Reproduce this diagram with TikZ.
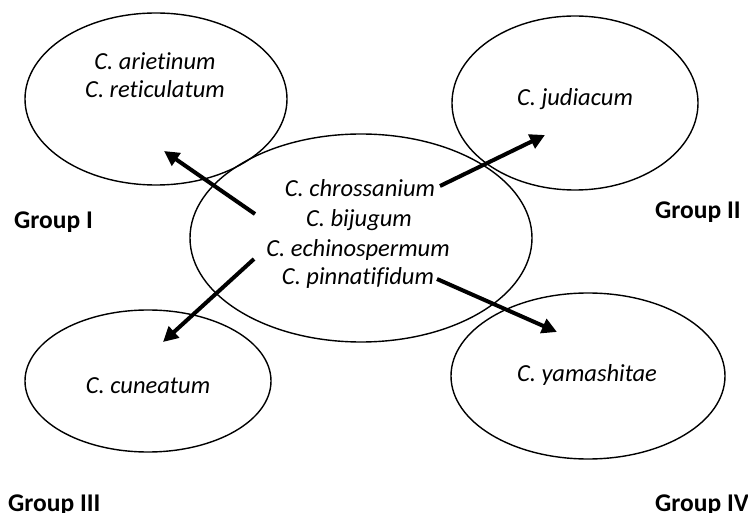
\documentclass[tikz,border=0pt]{standalone}
\usepackage{fontspec}
\setmainfont[Ligatures={NoCommon}]{Carlito}
\usetikzlibrary{shapes.geometric,arrows.meta}
\begin{document}
\begin{tikzpicture}[x=1pt,y=-1pt,
  group/.style={draw,ellipse,line width=1.4pt,inner sep=0pt},
  species/.style={font=\fontsize{24.5}{28}\selectfont\itshape,anchor=base,inner sep=0pt},
  grouplabel/.style={font=\fontsize{25.5}{28}\selectfont\bfseries,anchor=base west,inner sep=0pt},
  link/.style={line width=4pt,-{Triangle[length=15pt,width=15pt]}}]
\useasboundingbox (0,0) rectangle (748,513);
% the five species groups
\node[group,minimum width=262pt,minimum height=172pt] (gI)   at (156,99)  {};
\node[group,minimum width=246pt,minimum height=174pt] (gII)  at (575,103) {};
\node[group,minimum width=342pt,minimum height=208pt] (core) at (361,238) {};
\node[group,minimum width=246pt,minimum height=142pt] (gIII) at (148,381) {};
\node[group,minimum width=274pt,minimum height=166pt] (gIV)  at (588,376) {};
% species names (placed by baseline)
\node[species] (tIa)  at (155,70)  {C. arietinum};
\node[species] (tIb)  at (155,98)  {C. reticulatum};
\node[species] (tII)  at (575,106) {C. judiacum};
\node[species] (tca)  at (360,197) {C. chrossanium};
\node[species] (tcb)  at (359,227) {C. bijugum};
\node[species] (tcc)  at (358,257) {C. echinospermum};
\node[species] (tcd)  at (358,285) {C. pinnatifidum};
\node[species] (tIII) at (148,394) {C. cuneatum};
\node[species] (tIV)  at (587,382) {C. yamashitae};
% group labels
\node[grouplabel] (lI)   at (14,229)  {Group I};
\node[grouplabel] (lII)  at (655,219) {Group II};
\node[grouplabel] (lIII) at (8,511)   {Group III};
\node[grouplabel] (lIV)  at (655,511) {Group IV};
% arrow end points
\coordinate (sI)   at (255,214);
\coordinate (eI)   at (164,151);
\coordinate (sII)  at (440,186);
\coordinate (eII)  at (545,135);
\coordinate (sIII) at (254,259);
\coordinate (eIII) at (163,342);
\coordinate (sIV)  at (437,279);
\coordinate (eIV)  at (557,332);
\draw[link] (sI) -- (eI);
\draw[link] (sII) -- (eII);
\draw[link] (sIII) -- (eIII);
\draw[link] (sIV) -- (eIV);
\end{tikzpicture}
\end{document}
